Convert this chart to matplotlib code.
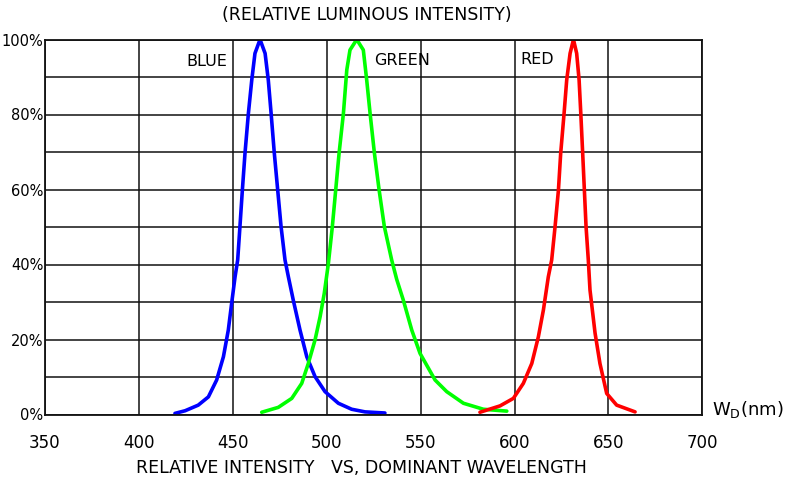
import matplotlib.pyplot as plt

# wavelength (nm) / relative intensity (%) for each LED colour
blue_nm = [419.2, 424.6, 431.6, 437, 441.4, 445, 447.6, 449.4, 451.2, 452.6,
           453.8, 455.1, 456.5, 458.3, 460.1, 461.8, 464.5, 467.2, 468.9, 470.4,
           472.1, 473.9, 475.7, 477.8, 479.6, 482.2, 485.8, 489.4, 493.8, 499.1,
           506.2, 513.3, 520.4, 531]
blue_pct = [0.3, 1.0, 2.5, 4.7, 9.2, 15.4, 22.5, 29.7, 36.7, 41.2,
            50.1, 59.9, 69.7, 80.3, 89.2, 96.3, 100, 96.3, 89.2, 80.3,
            69.7, 59.9, 50.1, 41.2, 36.7, 30.5, 22.5, 15.4, 10.1, 6.1,
            3.0, 1.4, 0.7, 0.4]

green_nm = [465.4, 474.2, 481.4, 486.7, 490.2, 493.8, 496.5, 498.7, 500.9, 503,
            504.8, 506.6, 508.9, 510.7, 512.4, 516, 519.5, 521.3, 523.1, 525.4,
            527.9, 530.7, 534.6, 537.3, 540.8, 545.3, 549.7, 557.7, 563.9, 572.8,
            583.4, 595.9]
green_pct = [0.6, 1.9, 4.3, 8.3, 13.6, 19.9, 26.1, 32.3, 40.3, 50.1,
             59.9, 69.7, 80.3, 91.9, 97.2, 100, 97.2, 89.2, 80.3, 69.7,
             59.9, 50.1, 41.2, 36.0, 30.5, 22.5, 16.3, 9.2, 6.1, 3.0,
             1.4, 0.9]

red_nm = [581.6, 592.3, 599.4, 604.7, 609.2, 612.7, 615.4, 618, 619.8, 621.6,
          623.4, 624.6, 626.4, 627.8, 629.6, 631.4, 633.1, 634.4, 635.3, 636.3,
          637.2, 638.1, 639.3, 640.2, 642.9, 645.5, 649.1, 654.4, 664.2]
red_pct = [0.6, 2.3, 4.3, 8.3, 13.6, 20.7, 27.9, 36.7, 41.2, 50.1,
           59.9, 69.7, 80.3, 89.2, 96.3, 100, 96.3, 89.2, 80.3, 69.7,
           59.9, 50.1, 41.2, 33.2, 21.7, 13.6, 5.6, 2.5, 0.7]

x_ticks = [350, 400, 450, 500, 550, 600, 650, 700]
y_ticks = [0, 20, 40, 60, 80, 100]
y_labels = ['0%', '20%', '40%', '60%', '80%', '100%']

fig = plt.figure(figsize=(7.9, 4.84), dpi=100)
ax = fig.add_axes([45 / 790, 69.5 / 484, 657.3 / 790, 375 / 484])

for xs, ys, c in [(blue_nm, blue_pct, '#0000ff'),
                  (green_nm, green_pct, '#00ff00'),
                  (red_nm, red_pct, '#ff0000')]:
    ax.plot(xs, ys, color=c, lw=2.6, solid_capstyle='round', solid_joinstyle='round')

ax.set_xlim(350, 700)
ax.set_ylim(0, 100)
ax.set_xticks(x_ticks)
ax.set_xticklabels([str(v) for v in x_ticks], fontsize=12)
ax.set_yticks(y_ticks)
ax.set_yticklabels(y_labels, fontsize=10.5)
ax.set_yticks(range(0, 101, 10), minor=True)
ax.tick_params(which='both', length=0)
ax.tick_params(axis='x', pad=14)
ax.tick_params(axis='y', pad=1)
ax.grid(True, which='both', color='#111111', lw=1.1)
ax.set_axisbelow(True)
for s in ax.spines.values():
    s.set_color('#111111')
    s.set_linewidth(1.3)

ax.text(425.5, 94, 'BLUE', fontsize=11.5, va='center', ha='left')
ax.text(525.5, 94.3, 'GREEN', fontsize=11.5, va='center', ha='left')
ax.text(603, 94.6, 'RED', fontsize=11.5, va='center', ha='left')

fig.text(367 / 790, 1 - 15 / 484, '(RELATIVE LUMINOUS INTENSITY)', fontsize=12.5,
         ha='center', va='center')
fig.text(361 / 790, 1 - 468 / 484, 'RELATIVE INTENSITY   VS, DOMINANT WAVELENGTH',
         fontsize=12.5, ha='center', va='center')
fig.text(712 / 790, 1 - 410 / 484, r'W$_\mathregular{D}$(nm)', fontsize=13,
         ha='left', va='center')

fig.savefig('out.png', dpi=100)
